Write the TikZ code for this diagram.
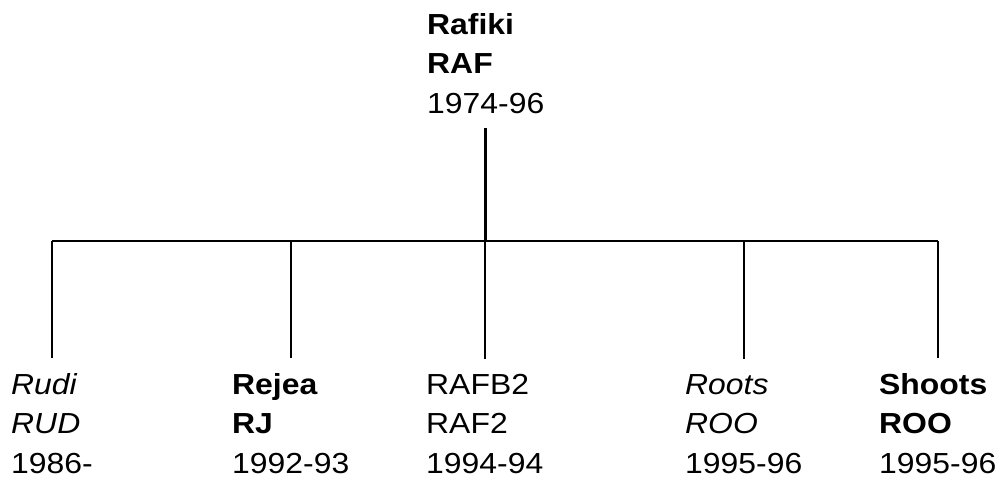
\documentclass[tikz,border=0pt]{standalone}
\usepackage{fontspec}
\setmainfont{Liberation Sans}[FakeStretch=1.1]
\begin{document}
\begin{tikzpicture}[x=1pt,y=-1pt,
  lbl/.style={anchor=base west,inner sep=0pt,align=left,font=\fontsize{29}{39.5}\selectfont},
  stem/.style={line width=3pt},
  link/.style={line width=1.8pt}]
\useasboundingbox (0,0) rectangle (1005,482);
\node[lbl] (root) at (427,113) {\textbf{Rafiki}\\\textbf{RAF}\\1974-96};
\node[lbl] (c1) at (11,473) {\textit{Rudi}\\\textit{RUD}\\1986-};
\node[lbl] (c2) at (232,473) {\textbf{Rejea}\\\textbf{RJ}\\1992-93};
\node[lbl] (c3) at (426,473) {RAFB2\\RAF2\\1994-94};
\node[lbl] (c4) at (685,473) {\textit{Roots}\\\textit{ROO}\\1995-96};
\node[lbl] (c5) at (879,473) {\textbf{Shoots}\\\textbf{ROO}\\1995-96};
\coordinate (bus) at (486,241);
\draw[stem] ([yshift=-15pt]root.south) -- (root.south |- bus);
\draw[link] (c1.north |- bus) -- (c5.north |- bus);
\foreach \c in {c1,c2,c3,c4,c5}
  \draw[link] (\c.north |- bus) -- ([yshift=15pt]\c.north);
\end{tikzpicture}
\end{document}
